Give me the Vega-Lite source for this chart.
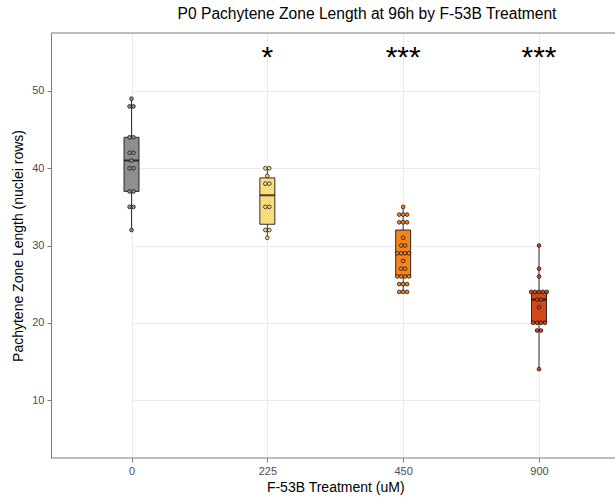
{
  "$schema": "https://vega.github.io/schema/vega-lite/v6.json",
  "width": 564,
  "height": 425,
  "autosize": {"type": "none"},
  "padding": {"left": 51, "top": 33, "right": 0, "bottom": 41},
  "background": "white",
  "config": {
    "font": "Liberation Sans",
    "view": {"stroke": null},
    "axis": {
      "domainColor": "#7a7a7a",
      "domainWidth": 1,
      "gridColor": "#EBEBEB",
      "gridWidth": 1,
      "tickColor": "#7a7a7a",
      "tickSize": 4,
      "labelColor": "#4D4D4D",
      "labelFontSize": 11,
      "labelFont": "Liberation Sans",
      "titleFont": "Liberation Sans",
      "titleFontSize": 14,
      "titleFontWeight": "normal",
      "titleColor": "#000000"
    }
  },
  "title": {
    "text": "P0 Pachytene Zone Length at 96h by F-53B Treatment",
    "font": "Liberation Sans",
    "fontSize": 15.6,
    "fontWeight": "normal",
    "color": "#000000",
    "anchor": "middle",
    "dx": 34,
    "offset": 10
  },
  "datasets": {
    "zone": [
      {"dose": "0", "value": 49},
      {"dose": "0", "value": 48},
      {"dose": "0", "value": 48},
      {"dose": "0", "value": 44},
      {"dose": "0", "value": 44},
      {"dose": "0", "value": 42},
      {"dose": "0", "value": 42},
      {"dose": "0", "value": 41},
      {"dose": "0", "value": 40},
      {"dose": "0", "value": 40},
      {"dose": "0", "value": 37},
      {"dose": "0", "value": 37},
      {"dose": "0", "value": 35},
      {"dose": "0", "value": 35},
      {"dose": "0", "value": 32},
      {"dose": "225", "value": 40},
      {"dose": "225", "value": 40},
      {"dose": "225", "value": 39},
      {"dose": "225", "value": 38},
      {"dose": "225", "value": 38},
      {"dose": "225", "value": 35},
      {"dose": "225", "value": 35},
      {"dose": "225", "value": 32},
      {"dose": "225", "value": 32},
      {"dose": "225", "value": 31},
      {"dose": "450", "value": 35},
      {"dose": "450", "value": 34},
      {"dose": "450", "value": 34},
      {"dose": "450", "value": 34},
      {"dose": "450", "value": 33},
      {"dose": "450", "value": 33},
      {"dose": "450", "value": 33},
      {"dose": "450", "value": 31},
      {"dose": "450", "value": 30},
      {"dose": "450", "value": 30},
      {"dose": "450", "value": 29},
      {"dose": "450", "value": 29},
      {"dose": "450", "value": 29},
      {"dose": "450", "value": 29},
      {"dose": "450", "value": 28},
      {"dose": "450", "value": 27},
      {"dose": "450", "value": 27},
      {"dose": "450", "value": 26},
      {"dose": "450", "value": 26},
      {"dose": "450", "value": 26},
      {"dose": "450", "value": 26},
      {"dose": "450", "value": 25},
      {"dose": "450", "value": 25},
      {"dose": "450", "value": 25},
      {"dose": "450", "value": 24},
      {"dose": "450", "value": 24},
      {"dose": "450", "value": 24},
      {"dose": "900", "value": 30},
      {"dose": "900", "value": 27},
      {"dose": "900", "value": 26},
      {"dose": "900", "value": 24},
      {"dose": "900", "value": 24},
      {"dose": "900", "value": 24},
      {"dose": "900", "value": 24},
      {"dose": "900", "value": 24},
      {"dose": "900", "value": 23},
      {"dose": "900", "value": 23},
      {"dose": "900", "value": 22},
      {"dose": "900", "value": 20},
      {"dose": "900", "value": 20},
      {"dose": "900", "value": 20},
      {"dose": "900", "value": 20},
      {"dose": "900", "value": 19},
      {"dose": "900", "value": 19},
      {"dose": "900", "value": 14}
    ],
    "signif": [
      {"dose": "225", "label": "*"},
      {"dose": "450", "label": "***"},
      {"dose": "900", "label": "***"}
    ]
  },
  "layer": [
    {
      "data": {"name": "zone"},
      "mark": {
        "type": "boxplot",
        "extent": 1.5,
        "size": 15,
        "outliers": false,
        "box": {"stroke": "#1a1a1a", "strokeWidth": 0.9},
        "median": {"color": "#000000", "thickness": 2},
        "rule": {"color": "#333333", "strokeWidth": 1}
      },
      "encoding": {
        "x": {
          "field": "dose",
          "type": "nominal",
          "sort": ["0", "225", "450", "900"],
          "scale": {"type": "point", "domain": ["0", "225", "450", "900"], "range": [80.5, 488], "padding": 0},
          "axis": {"title": "F-53B Treatment (uM)", "labelAngle": 0, "labelPadding": 3, "titlePadding": 4, "grid": true, "domain": false}
        },
        "y": {
          "field": "value",
          "type": "quantitative",
          "scale": {"domain": [2.5, 57.5], "nice": false, "zero": false},
          "axis": {"title": "Pachytene Zone Length (nuclei rows)", "values": [10, 20, 30, 40, 50], "labelPadding": 3, "titlePadding": 6, "domain": true}
        },
        "color": {
          "field": "dose",
          "type": "nominal",
          "scale": {"domain": ["0", "225", "450", "900"], "range": ["#8F8F8F", "#F9DC7E", "#F5841F", "#D2471B"]},
          "legend": null
        }
      }
    },
    {
      "data": {"name": "zone"},
      "transform": [
        {"window": [{"op": "count", "as": "unit"}], "frame": [0, 0]},
        {"stack": "unit", "groupby": ["dose", "value"], "offset": "center", "as": ["s0", "s1"]}
      ],
      "mark": {"type": "point", "filled": true, "size": 14, "stroke": "#111111", "strokeWidth": 0.75, "opacity": 1},
      "encoding": {
        "x": {"field": "dose", "type": "nominal"},
        "y": {"field": "value", "type": "quantitative"},
        "xOffset": {
          "field": "s0",
          "type": "quantitative",
          "scale": {"type": "linear", "domain": [0, 5], "range": [-7.8, 11.7], "nice": false, "zero": false}
        },
        "fill": {
          "field": "dose",
          "type": "nominal",
          "scale": {"domain": ["0", "225", "450", "900"], "range": ["#8F8F8F", "#F9DC7E", "#F5841F", "#D2471B"]},
          "legend": null
        }
      }
    },
    {
      "data": {"name": "signif"},
      "mark": {"type": "text", "fontSize": 30, "font": "Liberation Sans", "color": "#000000", "baseline": "middle", "align": "center", "dy": 6},
      "encoding": {
        "x": {"field": "dose", "type": "nominal"},
        "y": {"datum": 55, "type": "quantitative"},
        "text": {"field": "label"}
      }
    },
    {
      "data": {"values": [{"edge": "top", "at": 57.5}, {"edge": "bottom", "at": 2.5}]},
      "mark": {"type": "rule", "color": "#7a7a7a", "strokeWidth": 1},
      "encoding": {
        "y": {"field": "at", "type": "quantitative"}
      }
    }
  ]
}
